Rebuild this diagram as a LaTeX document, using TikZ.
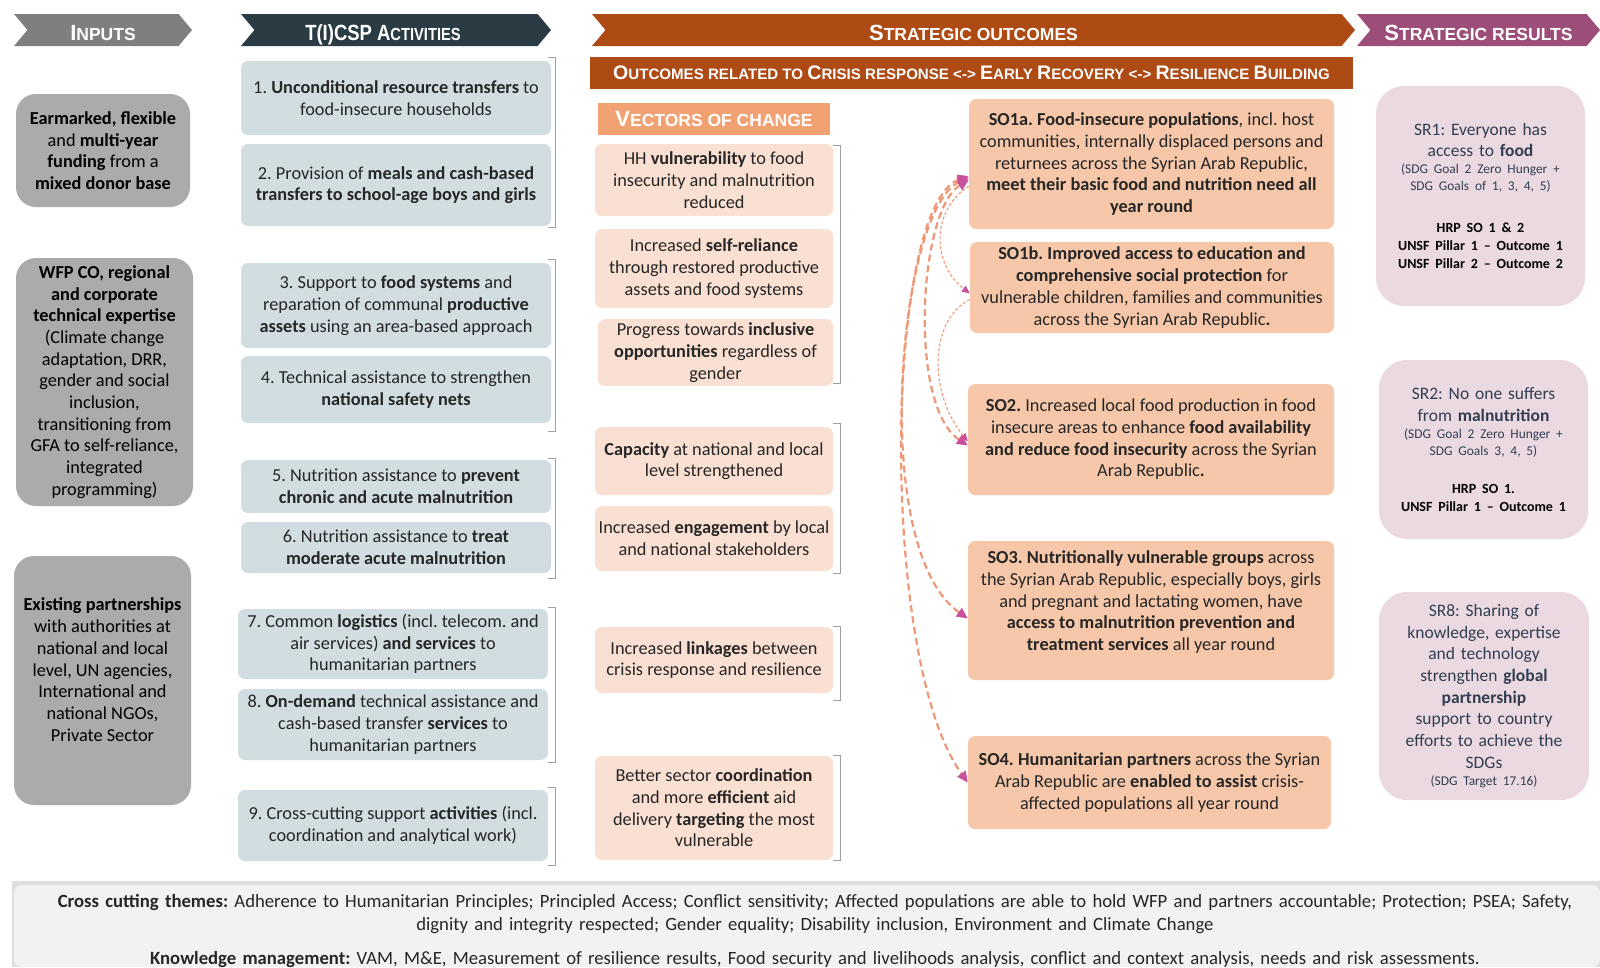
\documentclass[tikz,border=0pt]{standalone}
\usepackage{fontspec}
\setmainfont{Carlito}
\newfontfamily\headfont{Liberation Sans}
\usetikzlibrary{arrows.meta, shapes.symbols}

\definecolor{inhead}{HTML}{7F7F7F}
\definecolor{inbox}{HTML}{ABABAB}
\definecolor{acthead}{HTML}{2A3B44}
\definecolor{actbox}{HTML}{D2DDE1}
\definecolor{sohead}{HTML}{AE4A13}
\definecolor{vechead}{HTML}{F2A272}
\definecolor{vecbox}{HTML}{FAE0D3}
\definecolor{sobox}{HTML}{F6C7A9}
\definecolor{srhead}{HTML}{9C4E78}
\definecolor{srbox}{HTML}{EBD9E2}
\definecolor{srtext}{HTML}{323E50}
\definecolor{bandc}{HTML}{F2F2F2}
\definecolor{linkc}{HTML}{EE9877}
\definecolor{tipc}{HTML}{C9509A}
\definecolor{txt}{HTML}{262626}

% big letters of the fake small caps
\newcommand{\capA}[1]{{\fontsize{22}{22}\selectfont #1}}
\newcommand{\capB}[1]{{\fontsize{19.6}{19.6}\selectfont #1}}
\newcommand{\srsmall}{\fontsize{13.4}{17}\selectfont}
\newcommand{\srbold}{\fontsize{14}{18}\selectfont\bfseries\color{black}}

\begin{document}
\frenchspacing
\begin{tikzpicture}[x=1pt, y=-1pt,
    hdr/.style={signal, signal from=west, signal to=east, signal pointer angle=100,
        inner sep=0pt, text height=21pt, text depth=0pt, text=white,
        font=\headfont\bfseries\fontsize{17.5}{20}\selectfont},
    bar/.style={rectangle, inner sep=0pt, text=white, font=\headfont\bfseries\fontsize{15.1}{18}\selectfont},
    wh/.style 2 args={minimum width=#1, minimum height=#2},
    box/.style={rectangle, rounded corners=7pt, inner sep=0pt, align=center, text=txt,
        font=\fontsize{18.3}{21.7}\selectfont},
    inp/.style={box, fill=inbox, rounded corners=20pt, text=black},
    act/.style={box, fill=actbox},
    vec/.style={box, fill=vecbox},
    so/.style={box, fill=sobox},
    sr/.style={box, fill=srbox, rounded corners=28pt, text=srtext, text width=204pt,
        font=\fontsize{17.5}{21.7}\selectfont},
    brk/.style={draw=gray!75, line width=1pt},
    lnk/.style={draw=linkc, line width=2.2pt, dash pattern=on 7pt off 4pt,
        {Triangle[color=tipc,length=11pt,width=10pt]}-{Triangle[color=tipc,length=11pt,width=10pt]}},
    thinlnk/.style={draw=linkc, line width=1.1pt, dash pattern=on 3pt off 2pt,
        -{Triangle[color=tipc,length=8pt,width=7pt]}},
]
\useasboundingbox (0,0) rectangle (1600,967);

% column heads
\node[hdr, fill=inhead, wh={178}{32}] (hin) at (103,30) {\capA{I}NPUTS};
\node[hdr, fill=acthead, wh={310}{32}] (hact) at (396,30) {\scalebox{0.84}[1]{\capA{T(I)CSP A}CTIVITIES}\kern26pt};
\node[hdr, fill=sohead, wh={763}{32}] (hso) at (973.5,30) {\capA{S}TRATEGIC OUTCOMES};
\node[hdr, fill=srhead, wh={243}{32}] (hsr) at (1478.5,30) {\capA{S}TRATEGIC RESULTS};

\node[bar, fill=sohead, wh={763}{32}] (hrel) at (971.5,73)
    {\capB{O}UTCOMES RELATED TO \capB{C}RISIS RESPONSE <-> \capB{E}ARLY \capB{R}ECOVERY <-> \capB{R}ESILIENCE \capB{B}UILDING};
\node[bar, fill=vechead, wh={232}{32}, font=\headfont\bfseries\fontsize{17.5}{20}\selectfont] (hvec) at (714,119)
    {\capA{V}ECTORS OF CHANGE};

% inputs
\node[inp, wh={174}{113}] (in1) at (103,150.5)
    {\textbf{Earmarked, flexible}\\ and \textbf{multi-year}\\ \textbf{funding} from a\\ \textbf{mixed donor base}};
\node[inp, wh={177}{248}] (in2) at (104.5,382)
    {\textbf{WFP CO, regional}\\ \textbf{and corporate}\\ \textbf{technical expertise}\\ (Climate change\\ adaptation, DRR,\\
     gender and social\\ inclusion,\\ transitioning from\\ GFA to self-reliance,\\ integrated\\ programming)};
\node[inp, wh={177}{249}] (in3) at (102.5,680.5)
    {\textbf{Existing partnerships}\\ with authorities at\\ national and local\\ level, UN agencies,\\ International and\\
     national NGOs,\\ Private Sector\\[0pt]};

% activities
\node[act, wh={310}{74}] (a1) at (396,98)
    {1. \textbf{Unconditional resource transfers} to\\ food-insecure households};
\node[act, wh={310}{82}] (a2) at (396,185)
    {2. Provision of \textbf{meals and cash-based}\\ \textbf{transfers to school-age boys and girls}};
\node[act, wh={310}{85}] (a3) at (396,305.5)
    {3. Support to \textbf{food systems} and\\ reparation of communal \textbf{productive}\\ \textbf{assets} using an area-based approach};
\node[act, wh={310}{67}] (a4) at (396,389.5)
    {4. Technical assistance to strengthen\\ \textbf{national safety nets}};
\node[act, wh={310}{53}] (a5) at (396,486.5)
    {5. Nutrition assistance to \textbf{prevent}\\ \textbf{chronic and acute malnutrition}};
\node[act, wh={310}{51}] (a6) at (396,547.5)
    {6. Nutrition assistance to \textbf{treat}\\ \textbf{moderate acute malnutrition}};
\node[act, wh={310}{70}] (a7) at (393,644)
    {7. Common \textbf{logistics} (incl. telecom. and\\ air services) \textbf{and services} to\\ humanitarian partners};
\node[act, wh={310}{71}] (a8) at (393,724.5)
    {8. \textbf{On-demand} technical assistance and\\ cash-based transfer \textbf{services} to\\ humanitarian partners};
\node[act, wh={310}{71}] (a9) at (393,825.5)
    {9. Cross-cutting support \textbf{activities} (incl.\\ coordination and analytical work)};

\draw[brk] (548,57) -- (555,57) -- (555,227) -- (548,227);
\draw[brk] (548,259) -- (555,259) -- (555,431) -- (548,431);
\draw[brk] (548,458) -- (555,458) -- (555,578) -- (548,578);
\draw[brk] (548,607) -- (555,607) -- (555,762) -- (548,762);
\draw[brk] (548,787) -- (555,787) -- (555,865) -- (548,865);

% vectors of change
\node[vec, wh={238}{72}] (v1) at (714,180)
    {HH \textbf{vulnerability} to food\\ insecurity and malnutrition\\ reduced};
\node[vec, wh={238}{79}] (v2) at (714,268.5)
    {Increased \textbf{self-reliance}\\ through restored productive\\ assets and food systems};
\node[vec, wh={235}{67}] (v3) at (715.5,352.5)
    {Progress towards \textbf{inclusive}\\ \textbf{opportunities} regardless of\\ gender};
\node[vec, wh={238}{68}] (v4) at (714,461)
    {\textbf{Capacity} at national and local\\ level strengthened};
\node[vec, wh={238}{65}] (v5) at (714,538.5)
    {Increased \textbf{engagement} by local\\ and national stakeholders};
\node[vec, wh={238}{66}] (v6) at (714,660)
    {Increased \textbf{linkages} between\\ crisis response and resilience};
\node[vec, wh={238}{104}] (v7) at (714,808)
    {Better sector \textbf{coordination}\\ and more \textbf{efficient} aid\\ delivery \textbf{targeting} the most\\ vulnerable};

\draw[brk] (833,145) -- (840,145) -- (840,383) -- (833,383);
\draw[brk] (833,423) -- (840,423) -- (840,573) -- (833,573);
\draw[brk] (833,626) -- (840,626) -- (840,700) -- (833,700);
\draw[brk] (833,755) -- (840,755) -- (840,860) -- (833,860);

% strategic outcomes
\node[so, wh={365}{130}] (so1a) at (1151.5,164)
    {\textbf{SO1a. Food-insecure populations}, incl. host\\ communities, internally displaced persons and\\
     returnees across the Syrian Arab Republic,\\ \textbf{meet their basic food and nutrition need all}\\ \textbf{year round}};
\node[so, wh={364}{91}] (so1b) at (1152,287.5)
    {\textbf{SO1b. Improved access to education and}\\ \textbf{comprehensive social protection} for\\
     vulnerable children, families and communities\\ across the Syrian Arab Republic\textbf{.}};
\node[so, wh={366}{111}] (so2) at (1151,439.5)
    {\textbf{SO2.} Increased local food production in food\\ insecure areas to enhance \textbf{food availability}\\
     \textbf{and reduce food insecurity} across the Syrian\\ Arab Republic\textbf{.}};
\node[so, wh={366}{139}] (so3) at (1151,610.5)
    {\textbf{SO3. Nutritionally vulnerable groups} across\\ the Syrian Arab Republic, especially boys, girls\\
     and pregnant and lactating women, have\\ \textbf{access to malnutrition prevention and}\\ \textbf{treatment services} all year round\\[-2pt]};
\node[so, wh={363}{93}] (so4) at (1149.5,782.5)
    {\textbf{SO4. Humanitarian partners} across the Syrian\\ Arab Republic are \textbf{enabled to assist} crisis-\\
     affected populations all year round};

% links between the outcomes
\draw[lnk] ([yshift=-12pt]so1a.west) .. controls +(-84,30) and +(-90,-125) .. (so4.west);
\draw[lnk] ([yshift=-14pt]so1a.west) .. controls +(-70,30) and +(-100,-70) .. ([yshift=-8pt]so3.west);
\draw[lnk] ([yshift=-16pt]so1a.west) .. controls +(-50,30) and +(-60,-40) .. ([yshift=-6pt]so2.west);
\draw[thinlnk] ([yshift=-22pt]so1a.west) .. controls +(-38,25) and +(-38,-30) .. ([yshift=-6pt]so1b.west);
\draw[thinlnk] ([yshift=-12pt]so1b.west) .. controls +(-40,20) and +(-40,-50) .. ([yshift=-2pt]so2.west);

% strategic results
\node[sr, wh={209}{220}] (sr1) at (1480.5,196)
    {SR1: Everyone has\par access to \textbf{food}\par
     {\srsmall (SDG Goal 2 Zero Hunger +\par SDG Goals of 1, 3, 4, 5)\par}
     \vspace{24pt}
     {\srbold HRP SO 1 \& 2\par UNSF Pillar 1 -- Outcome 1\par UNSF Pillar 2 -- Outcome 2\par}};
\node[sr, wh={209}{179}] (sr2) at (1483.5,449.5)
    {SR2: No one suffers\par from \textbf{malnutrition}\par
     {\srsmall (SDG Goal 2 Zero Hunger +\par SDG Goals 3, 4, 5)\par}
     \vspace{20pt}
     {\srbold HRP SO 1.\par UNSF Pillar 1 -- Outcome 1\par}};
\node[sr, wh={210}{208}] (sr8) at (1484,696)
    {SR8: Sharing of\par knowledge, expertise\par and technology\par strengthen \textbf{global}\par \textbf{partnership}\par
     support to country\par efforts to achieve the\par SDGs\par
     {\srsmall (SDG Target 17.16)\par}};

% cross cutting band
\fill[gray!25] (12,881) rectangle (1600,967);
\fill[bandc, rounded corners=8pt] (14,885) -- (1600,885) -- (1600,967) -- (14,967) -- cycle;
\node[box, text width=1570pt, font=\fontsize{18.7}{23.5}\selectfont] (band) at (815,931)
    {\textbf{Cross cutting themes:} Adherence to Humanitarian Principles; Principled Access; Conflict sensitivity; Affected populations are able to hold WFP and partners accountable; Protection; PSEA; Safety,\\
     dignity and integrity respected; Gender equality; Disability inclusion, Environment and Climate Change\\[10.5pt]
     \textbf{Knowledge management:} VAM, M\&E, Measurement of resilience results, Food security and livelihoods analysis, conflict and context analysis, needs and risk assessments.};

\end{tikzpicture}
\end{document}
